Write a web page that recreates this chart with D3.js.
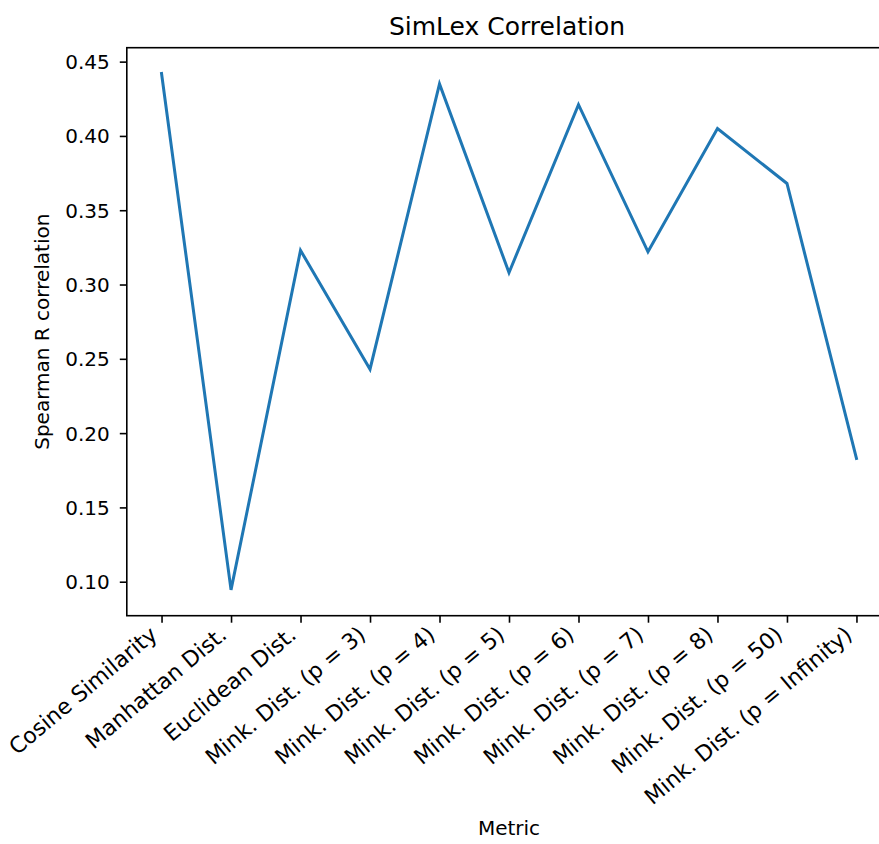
<!DOCTYPE html>
<html>
<head>
<meta charset="utf-8">
<script src="https://cdn.jsdelivr.net/npm/d3@7"></script>
<style>
  html, body { margin: 0; padding: 0; background: #fff; }
  svg { display: block; font-family: "DejaVu Sans", sans-serif; }
</style>
</head>
<body>
<svg id="chart" width="879" height="844"></svg>
<script>
// Metrics compared on SimLex
const categories = [
  "Cosine Similarity",
  "Manhattan Dist.",
  "Euclidean Dist.",
  "Mink. Dist. (p = 3)",
  "Mink. Dist. (p = 4)",
  "Mink. Dist. (p = 5)",
  "Mink. Dist. (p = 6)",
  "Mink. Dist. (p = 7)",
  "Mink. Dist. (p = 8)",
  "Mink. Dist. (p = 50)",
  "Mink. Dist. (p = Infinity)"
];
const spearman = [0.442, 0.0945, 0.323, 0.243, 0.435, 0.308, 0.421, 0.322, 0.405, 0.368, 0.183];
const yTickValues = [0.10, 0.15, 0.20, 0.25, 0.30, 0.35, 0.40, 0.45];

const FONT = "'DejaVu Sans', sans-serif";
const svg = d3.select("#chart");
const plot = { left: 126.8, right: 891.2, top: 47.7, bottom: 615.7 };

const x = d3.scalePoint()
  .domain(categories)
  .range([plot.left, plot.right])
  .padding(0.5);

// 5% margin above and below the data range
const lo = d3.min(spearman), hi = d3.max(spearman);
const pad = (hi - lo) * 0.05;
const y = d3.scaleLinear()
  .domain([lo - pad, hi + pad])
  .range([plot.bottom, plot.top]);

// Line
const line = d3.line()
  .x((d, i) => x(categories[i]))
  .y(d => y(d));

svg.append("path")
  .datum(spearman)
  .attr("d", line)
  .attr("fill", "none")
  .attr("stroke", "#1f77b4")
  .attr("stroke-width", 3)
  .attr("stroke-linejoin", "miter")
  .attr("stroke-linecap", "square");

// Y axis
const yAxis = d3.axisLeft(y)
  .tickValues(yTickValues)
  .tickFormat(d3.format(".2f"))
  .tickSize(7)
  .tickPadding(7)
  .tickSizeOuter(0);

const gy = svg.append("g")
  .attr("transform", `translate(${plot.left},0)`)
  .call(yAxis)
  .attr("font-family", FONT)
  .attr("font-size", 20);
gy.select(".domain").remove();
gy.selectAll(".tick line").attr("stroke", "#000").attr("stroke-width", 1.6);
gy.selectAll(".tick text")
  .attr("fill", "#000")
  .attr("x", -17)
  .attr("dy", "0.35em");

// X axis
const xAxis = d3.axisBottom(x)
  .tickSize(7)
  .tickPadding(7)
  .tickSizeOuter(0);

const fs = 22;
const gx = svg.append("g")
  .attr("transform", `translate(0,${plot.bottom})`)
  .call(xAxis)
  .attr("font-family", FONT)
  .attr("font-size", fs);
gx.select(".domain").remove();
gx.selectAll(".tick line").attr("stroke", "#000").attr("stroke-width", 1.6);

// Rotated labels: right edge at the tick, top of the rotated box below the tick
const ang = 40 * Math.PI / 180;
const asc = 0.76 * fs, desc = 0.24 * fs;
const y0 = 8.5;
gx.selectAll(".tick text")
  .attr("fill", "#000")
  .attr("text-anchor", "end")
  .attr("dy", null)
  .attr("y", null)
  .attr("transform", `translate(${-desc * Math.sin(ang)},${y0 + asc * Math.cos(ang)}) rotate(-40)`);

// Frame
svg.append("rect")
  .attr("x", plot.left)
  .attr("y", plot.top)
  .attr("width", plot.right - plot.left)
  .attr("height", plot.bottom - plot.top)
  .attr("fill", "none")
  .attr("stroke", "#000")
  .attr("stroke-width", 1.6);

// Title and axis labels
svg.append("text")
  .attr("x", (plot.left + plot.right) / 2 - 2)
  .attr("y", 35)
  .attr("text-anchor", "middle")
  .attr("font-family", FONT)
  .attr("font-size", 25)
  .attr("fill", "#000")
  .text("SimLex Correlation");

svg.append("text")
  .attr("x", (plot.left + plot.right) / 2)
  .attr("y", 835)
  .attr("text-anchor", "middle")
  .attr("font-family", FONT)
  .attr("font-size", 20)
  .attr("fill", "#000")
  .text("Metric");

svg.append("text")
  .attr("transform", `translate(49,${(plot.top + plot.bottom) / 2}) rotate(-90)`)
  .attr("text-anchor", "middle")
  .attr("font-family", FONT)
  .attr("font-size", 20)
  .attr("fill", "#000")
  .text("Spearman R correlation");
</script>
</body>
</html>
